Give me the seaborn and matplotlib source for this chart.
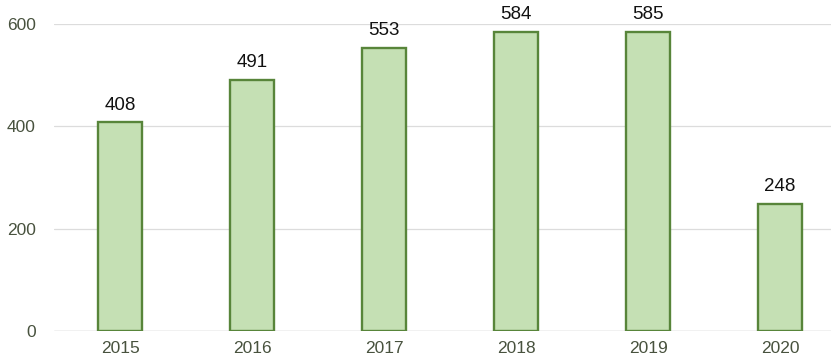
import matplotlib
matplotlib.use("Agg")
import matplotlib.pyplot as plt
import seaborn as sns
import pandas as pd

years = ["2015", "2016", "2017", "2018", "2019", "2020"]
counts = [408, 491, 553, 584, 585, 248]
y_ticks = [0, 200, 400, 600]

df = pd.DataFrame({"year": years, "count": counts})

sns.set_theme(style="white")
plt.rcParams["font.family"] = ["Liberation Sans", "DejaVu Sans"]

W, H = 831, 358
fig = plt.figure(figsize=(W / 100, H / 100), dpi=100)
left, right, bottom, top = 54, 831, 27, 334
ax = fig.add_axes([left / W, bottom / H, (right - left) / W, (top - bottom) / H])

sns.barplot(data=df, x="year", y="count", ax=ax, width=0.33,
            color="#c5e0b4", saturation=1, edgecolor="#58853a", linewidth=1.7)

ax.set_xlim(-0.5, -0.5 + (right - left) / 132)
ax.set_ylim(0, 600)
ax.set_yticks(y_ticks)
ax.yaxis.grid(True, color="#dcdcdc", linewidth=0.9)
ax.set_axisbelow(True)
for s in ax.spines.values():
    s.set_visible(False)
ax.axhline(0, color="#cfcfcf", linewidth=1.0, zorder=0)

ax.set_xlabel("")
ax.set_ylabel("")
ax.tick_params(axis="both", length=0, labelsize=12.5, labelcolor="#48523e")
ax.tick_params(axis="y", pad=13)
ax.tick_params(axis="x", pad=7)

for p, v in zip(ax.patches, counts):
    ax.text(p.get_x() + p.get_width() / 2, v + 17, str(v),
            ha="center", va="bottom", fontsize=13.5, color="#111111", clip_on=False)

fig.savefig("out.png", dpi=100, facecolor="white")
